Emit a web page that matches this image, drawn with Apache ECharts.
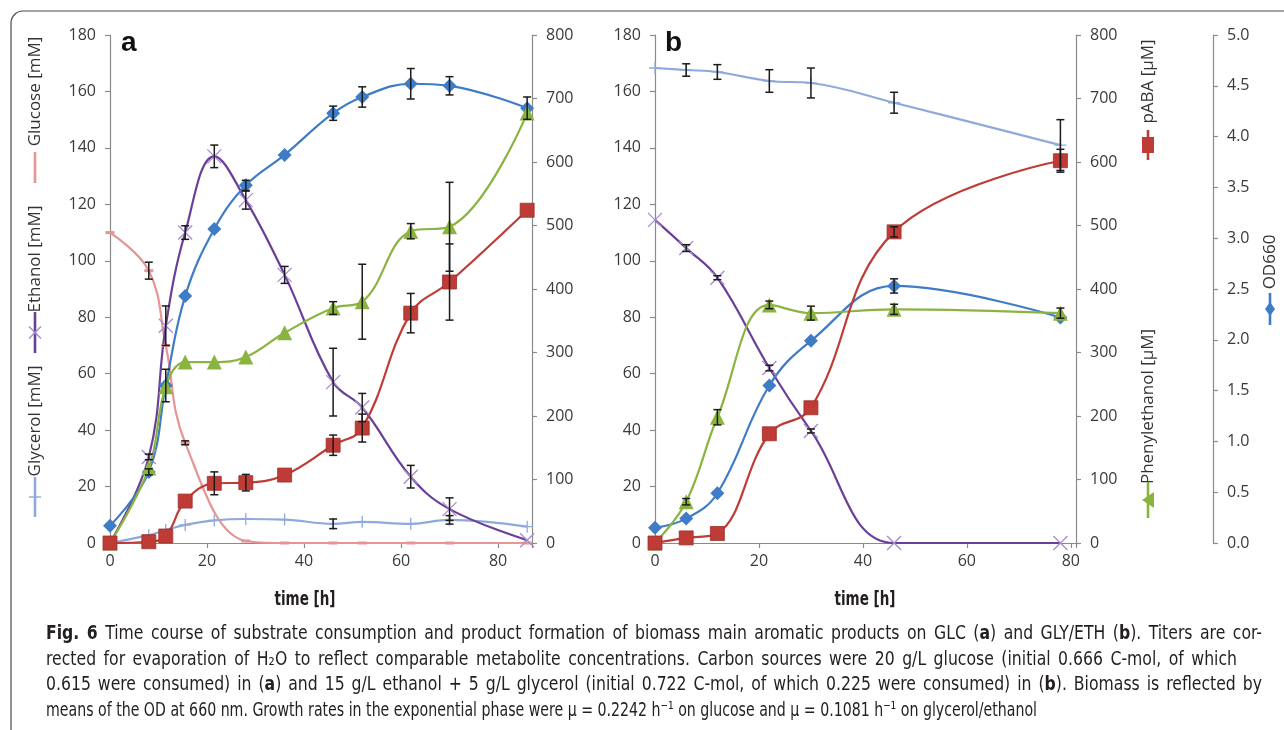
<!DOCTYPE html>
<html>
<head>
<meta charset="utf-8">
<script src="https://cdn.jsdelivr.net/npm/echarts@6/dist/echarts.min.js"></script>
<style>
  html, body { margin: 0; padding: 0; background: #fff; }
  #chart { width: 1284px; height: 730px; }
</style>
</head>
<body>
<div id="chart"></div>
<script>
// ---- panel a: glucose (GLC) ----
const timeA = [0, 8, 11.5, 15.5, 21.5, 28, 36, 46, 52, 62, 70, 86];
const glucoseA = [110, 96.5, 70, 35.5, '-', 0.7, 0, 0, 0, 0, 0, 0];       // mM
const ethanolA = [0, 30.5, 77, 110, 137, 121.5, 95, 57, 48, 23.5, 12, 1]; // mM
const glycerolA = [0, 2.8, 4.6, 6.4, 8, 8.5, 8.3, 6.8, 7.5, 6.8, 8.2, 5.8]; // mM
const odA = [0.17, 0.7, 1.55, 2.43, 3.09, 3.52, 3.82, 4.23, 4.39, 4.52, 4.5, 4.28];
const pabaA = [0, 2, 11, 66, 94, 95, 107, 154, 181, 362, 411, 524];       // uM
const pheA = [0, 118, 246, 285, 285, 293, 331, 370, 380, 491, 498, 677];  // uM

// error bars (+/-), same units
const errGlucoseA = [0, 3, 0, 0.7, 0, 0, 0, 0, 0, 0, 0, 0];
const errEthanolA = [0, 1, 7, 2.4, 4, 3.2, 3, 12, 5, 4, 4, 0];
const errGlycerolA = [0, 0, 0, 0, 0, 0, 0, 1.7, 0, 0, 1.5, 0];
const errOdA = [0, 0.03, 0.16, 0, 0, 0.05, 0, 0.07, 0.1, 0.15, 0.09, 0.11];
const errPabaA = [0, 0, 0, 0, 18, 13, 0, 16, 22, 31, 60, 0];
const errPheA = [0, 0, 0, 0, 0, 0, 0, 10, 59, 12, 70, 0];

// ---- panel b: glycerol / ethanol (GLY/ETH) ----
const timeB = [0, 6, 12, 22, 30, 46, 78];
const glycerolB = [168.3, 167.6, 166.9, 163.7, 163, 156, 141];
const ethanolB = [114.5, 104.5, 94, 62, 39.7, 0, 0];
const odB = [0.15, 0.24, 0.49, 1.55, 1.99, 2.53, 2.22];
const pabaB = [0, 8, 15, 172, 213, 490, 602];
const pheB = [0, 65, 198, 375, 362, 368, 362];

const errGlycerolB = [0, 2.2, 2.6, 4, 5.3, 3.7, 9];
const errEthanolB = [0, 1.2, 0.7, 1, 0.7, 0, 0];
const errOdB = [0, 0, 0, 0, 0, 0.07, 0];
const errPabaB = [0, 0, 0, 0, 0, 8, 18];
const errPheB = [0, 5, 12, 6, 11, 8, 8];

// axis tick labels
const xTicks = [0, 20, 40, 60, 80];

const captionLines = [
  '{b|Fig. 6}  Time course of substrate consumption and product formation of biomass main aromatic products on GLC ({b|a}) and GLY/ETH ({b|b}). Titers are cor-',
  'rected for evaporation of H₂O to reflect comparable metabolite concentrations. Carbon sources were 20 g/L glucose (initial 0.666 C-mol, of which',
  '0.615 were consumed) in ({b|a}) and 15 g/L ethanol + 5 g/L glycerol (initial 0.722 C-mol, of which 0.225 were consumed) in ({b|b}). Biomass is reflected by',
  'means of the OD at 660 nm. Growth rates in the exponential phase were μ = 0.2242 h⁻¹ on glucose and μ = 0.1081 h⁻¹ on glycerol/ethanol'
];

// colours
const C_GLC = '#e59594';
const C_ETH = '#6a3f98';
const C_ETH_M = '#a58ccf';
const C_GLY = '#8eaadb';
const C_OD = '#3f7cc6';
const C_PABA = '#bf3b36';
const C_PHE = '#8ab43f';

const FONT = "'Open Sans', 'Noto Sans', sans-serif";
const CAP_FONT = "'Liberation Sans Narrow', 'DejaVu Sans Condensed', 'Liberation Sans', sans-serif";
const CAP_SIZE = 20;

const SYM_X = 'path://M0,0 L10,10 M10,0 L0,10';
const SYM_PLUS = 'path://M5,0 L5,10 M0,5 L10,5';

function lineSeries(name, times, values, xIdx, yIdx, color, symbol, symbolSize, itemStyle) {
  return {
    type: 'line',
    name,
    xAxisIndex: xIdx,
    yAxisIndex: yIdx,
    data: times.map((t, i) => [t, values[i]]),
    smooth: 0.4,
    connectNulls: true,
    symbol,
    symbolSize,
    showAllSymbol: true,
    lineStyle: { color, width: 2.2 },
    itemStyle: itemStyle || { color },
    z: 3,
    animation: false,
  };
}

function errorBars(times, values, errs, xIdx, yIdx) {
  const data = [];
  times.forEach((t, i) => {
    if (errs[i]) data.push([t, values[i], errs[i]]);
  });
  return {
    type: 'custom',
    xAxisIndex: xIdx,
    yAxisIndex: yIdx,
    silent: true,
    z: 4,
    animation: false,
    encode: { x: 0, y: 1 },
    renderItem(params, api) {
      const x = api.value(0), y = api.value(1), e = api.value(2);
      const hi = api.coord([x, y + e]);
      const lo = api.coord([x, y - e]);
      const w = 4;
      const s = { stroke: '#1b1b1b', lineWidth: 1.5 };
      return {
        type: 'group',
        children: [
          { type: 'line', shape: { x1: hi[0], y1: hi[1], x2: lo[0], y2: lo[1] }, style: s },
          { type: 'line', shape: { x1: hi[0] - w, y1: hi[1], x2: hi[0] + w, y2: hi[1] }, style: s },
          { type: 'line', shape: { x1: lo[0] - w, y1: lo[1], x2: lo[0] + w, y2: lo[1] }, style: s },
        ],
      };
    },
    data,
  };
}

const axisLine = { show: true, lineStyle: { color: '#8a8a8a', width: 1.2 } };
const axisTick = { show: true, length: 5, inside: false, lineStyle: { color: '#8a8a8a', width: 1.2 } };
const tickLabel = { color: '#3a3a3a', fontSize: 16, fontFamily: FONT };

function xAxis(gridIndex, max) {
  return {
    type: 'value', gridIndex, min: 0, max, interval: 20,
    axisLine, axisTick, splitLine: { show: false },
    axisLabel: { ...tickLabel, margin: 10, formatter: (v) => (xTicks.includes(v) ? String(v) : '') },
  };
}

function yAxis(gridIndex, position, max, interval, extra) {
  return Object.assign({
    type: 'value', gridIndex, position, min: 0, max, interval,
    axisLine, axisTick, splitLine: { show: false },
    axisLabel: { ...tickLabel, margin: 14 },
  }, extra || {});
}

// ---- caption: words laid out one by one so lines can be justified ----
const mctx = document.createElement('canvas').getContext('2d');

function pieceWidth(p, size) {
  mctx.font = (p.bold ? 'bold ' : '') + size + 'px ' + CAP_FONT;
  return mctx.measureText(p.t).width;
}

// split "{b|..}" markup into words, each word a list of pieces
function toWords(str) {
  const words = [[]];
  str.replace(/\{b\|([^}]*)\}|([^{]+)/g, (m, b, n) => {
    const bold = b !== undefined;
    const parts = (bold ? b : n).split(' ');
    parts.forEach((t, i) => {
      if (i > 0) words.push([]);
      if (t) words[words.length - 1].push({ bold, t });
    });
    return m;
  });
  return words.filter((w) => w.length);
}

function wordWidth(w, size) {
  return w.reduce((s, p) => s + pieceWidth(p, size), 0);
}

function wordEl(w, x, y, size, sx, boldAll) {
  const tok = (weight) => ({ fontSize: size, fontFamily: CAP_FONT, fontWeight: weight, fill: '#231f20' });
  return {
    type: 'text', x, y, scaleX: sx, silent: true,
    style: {
      text: w.map((p) => '{' + (p.bold || boldAll ? 'b' : 'n') + '|' + p.t + '}').join(''),
      x: 0, y: 0, fontSize: size, fontFamily: CAP_FONT, fill: '#231f20',
      align: 'left', verticalAlign: 'middle',
      rich: { b: tok('bold'), n: tok('normal') },
    },
  };
}

function spaceWidth(size) {
  mctx.font = size + 'px ' + CAP_FONT;
  return mctx.measureText(' ').width;
}

function naturalWidth(str, size) {
  const words = toWords(str);
  return words.reduce((s, w) => s + wordWidth(w, size), 0) + spaceWidth(size) * (words.length - 1);
}

function captionLine(str, x0, y, target, size, sx, justify) {
  const words = toWords(str);
  const widths = words.map((w) => wordWidth(w, size));
  let gap = spaceWidth(size) * sx;
  if (justify && words.length > 1) {
    gap = (target - sx * widths.reduce((a, b) => a + b, 0)) / (words.length - 1);
  }
  let x = x0;
  return words.map((w, i) => {
    const el = wordEl(w, x, y, size, sx, false);
    x += widths[i] * sx + gap;
    return el;
  });
}

// justified lines: squeeze so that only a little extra word spacing is needed
const gaps0 = toWords(captionLines[0]).length - 1;
const capScale = (1216 - 2.5 * gaps0) / naturalWidth(captionLines[0], CAP_SIZE);
// last line is unjustified and fitted on its own
const capScaleLast = 991 / naturalWidth(captionLines[3], CAP_SIZE);

function centredBold(str, cx, y, width, size) {
  const words = toWords(str).map((wd) => wd.map((p) => ({ bold: true, t: p.t })));
  const widths = words.map((wd) => wordWidth(wd, size));
  mctx.font = 'bold ' + size + 'px ' + CAP_FONT;
  const space = mctx.measureText(' ').width;
  const total = widths.reduce((a, b) => a + b, 0) + space * (words.length - 1);
  const sx = width / total;
  let x = cx - width / 2;
  return words.map((wd, i) => {
    const el = wordEl(wd, x, y, size, sx, true);
    x += (widths[i] + space) * sx;
    return el;
  });
}

// rotated axis title with a legend key below it (Excel-style)
function axisKey(cx, top, bottom, keyEnd, label, color, marker) {
  const els = [
    {
      type: 'text', x: cx, y: (top + bottom) / 2, rotation: Math.PI / 2, silent: true,
      style: { text: label, fontSize: 17, fontFamily: FONT, fill: '#333', align: 'center', verticalAlign: 'middle' },
    },
    { type: 'line', silent: true, shape: { x1: cx, y1: bottom + 2, x2: cx, y2: keyEnd }, style: { stroke: color, lineWidth: 2.6 } },
  ];
  const my = (bottom + 2 + keyEnd) / 2;
  if (marker === 'x') {
    const s = { stroke: C_ETH_M, lineWidth: 1.4 };
    els.push({ type: 'line', silent: true, shape: { x1: cx - 6, y1: my - 6, x2: cx + 6, y2: my + 6 }, style: s });
    els.push({ type: 'line', silent: true, shape: { x1: cx - 6, y1: my + 6, x2: cx + 6, y2: my - 6 }, style: s });
  } else if (marker === 'plus') {
    els.push({ type: 'line', silent: true, shape: { x1: cx - 6, y1: my, x2: cx + 6, y2: my }, style: { stroke: color, lineWidth: 1.4 } });
  } else if (marker === 'rect') {
    els.push({ type: 'rect', silent: true, shape: { x: cx - 6, y: my - 8, width: 12, height: 16 }, style: { fill: color } });
  } else if (marker === 'tri') {
    els.push({ type: 'polygon', silent: true, shape: { points: [[cx - 6, my], [cx + 6, my - 8], [cx + 6, my + 8]] }, style: { fill: color } });
  } else if (marker === 'diamond') {
    els.push({ type: 'polygon', silent: true, shape: { points: [[cx, my - 7], [cx + 5, my], [cx, my + 7], [cx - 5, my]] }, style: { fill: color } });
  }
  return els;
}

const chart = echarts.init(document.getElementById('chart'), null, { renderer: 'canvas' });

const graphics = [
  { type: 'rect', silent: true, z: -10, shape: { x: 11, y: 11, width: 1300, height: 740, r: 12 }, style: { fill: 'none', stroke: '#4a4a4a', lineWidth: 1.2 } },
  { type: 'text', x: 121, y: 43, silent: true, style: { text: 'a', fontSize: 28, fontWeight: 'bold', fontFamily: "'Liberation Sans', Arial, sans-serif", fill: '#111', verticalAlign: 'middle' } },
  { type: 'text', x: 665, y: 43, silent: true, style: { text: 'b', fontSize: 28, fontWeight: 'bold', fontFamily: "'Liberation Sans', Arial, sans-serif", fill: '#111', verticalAlign: 'middle' } },
  ...axisKey(35, 33, 150, 183, 'Glucose [mM]', C_GLC, null),
  ...axisKey(35, 208, 310, 353, 'Ethanol [mM]', C_ETH, 'x'),
  ...axisKey(35, 367, 475, 517, 'Glycerol [mM]', C_GLY, 'plus'),
  ...axisKey(1148, 35, 128, 160, 'pABA [µM]', C_PABA, 'rect'),
  ...axisKey(1148, 333, 480, 518, 'Phenylethanol [µM]', C_PHE, 'tri'),
  ...axisKey(1270, 233, 291, 325, 'OD660', C_OD, 'diamond'),
  ...centredBold('time [h]', 305, 600, 61, 19),
  ...centredBold('time [h]', 865, 600, 61, 19),
  ...captionLine(captionLines[0], 46, 634, 1216, CAP_SIZE, capScale, true),
  ...captionLine(captionLines[1], 46, 660, 1191, CAP_SIZE, capScale, true),
  ...captionLine(captionLines[2], 46, 685, 1216, CAP_SIZE, capScale, true),
  ...captionLine(captionLines[3], 46, 711, 991, CAP_SIZE, capScaleLast, false),
];

const option = {
  backgroundColor: '#fff',
  animation: false,
  grid: [
    { left: 110, top: 35, width: 422, height: 508 },
    { left: 655, top: 35, width: 421, height: 508 },
  ],
  xAxis: [xAxis(0, 87), xAxis(1, 81)],
  yAxis: [
    yAxis(0, 'left', 180, 20),
    yAxis(0, 'right', 800, 100),
    yAxis(0, 'right', 5, 0.5, { show: false }),
    yAxis(1, 'left', 180, 20),
    yAxis(1, 'right', 800, 100),
    yAxis(1, 'right', 5, 0.5, {
      offset: 137,
      axisLabel: { ...tickLabel, margin: 14, formatter: (v) => v.toFixed(1) },
    }),
  ],
  series: [
    // panel a
    lineSeries('Glycerol', timeA, glycerolA, 0, 0, C_GLY, SYM_PLUS, 12, { color: 'rgba(0,0,0,0)', borderColor: C_GLY, borderWidth: 1.3 }),
    lineSeries('Glucose', timeA, glucoseA, 0, 0, C_GLC, 'rect', [9, 3], { color: C_GLC }),
    lineSeries('Ethanol', timeA, ethanolA, 0, 0, C_ETH, SYM_X, 14, { color: 'rgba(0,0,0,0)', borderColor: C_ETH_M, borderWidth: 1.3 }),
    lineSeries('OD660', timeA, odA, 0, 2, C_OD, 'diamond', 14, { color: C_OD }),
    lineSeries('Phenylethanol', timeA, pheA, 0, 1, C_PHE, 'triangle', 15, { color: C_PHE }),
    lineSeries('pABA', timeA, pabaA, 0, 1, C_PABA, 'rect', 14, { color: C_PABA, borderColor: '#a0302c', borderWidth: 0.8 }),
    errorBars(timeA, glucoseA, errGlucoseA, 0, 0),
    errorBars(timeA, ethanolA, errEthanolA, 0, 0),
    errorBars(timeA, glycerolA, errGlycerolA, 0, 0),
    errorBars(timeA, odA, errOdA, 0, 2),
    errorBars(timeA, pabaA, errPabaA, 0, 1),
    errorBars(timeA, pheA, errPheA, 0, 1),
    // panel b
    lineSeries('Glycerol', timeB, glycerolB, 1, 3, C_GLY, SYM_PLUS, 12, { color: 'rgba(0,0,0,0)', borderColor: C_GLY, borderWidth: 1.3 }),
    lineSeries('Ethanol', timeB, ethanolB, 1, 3, C_ETH, SYM_X, 14, { color: 'rgba(0,0,0,0)', borderColor: C_ETH_M, borderWidth: 1.3 }),
    lineSeries('OD660', timeB, odB, 1, 5, C_OD, 'diamond', 14, { color: C_OD }),
    lineSeries('Phenylethanol', timeB, pheB, 1, 4, C_PHE, 'triangle', 15, { color: C_PHE }),
    lineSeries('pABA', timeB, pabaB, 1, 4, C_PABA, 'rect', 14, { color: C_PABA, borderColor: '#a0302c', borderWidth: 0.8 }),
    errorBars(timeB, glycerolB, errGlycerolB, 1, 3),
    errorBars(timeB, ethanolB, errEthanolB, 1, 3),
    errorBars(timeB, odB, errOdB, 1, 5),
    errorBars(timeB, pabaB, errPabaB, 1, 4),
    errorBars(timeB, pheB, errPheB, 1, 4),
  ],
  graphic: { elements: graphics },
};

chart.setOption(option);
</script>
</body>
</html>
